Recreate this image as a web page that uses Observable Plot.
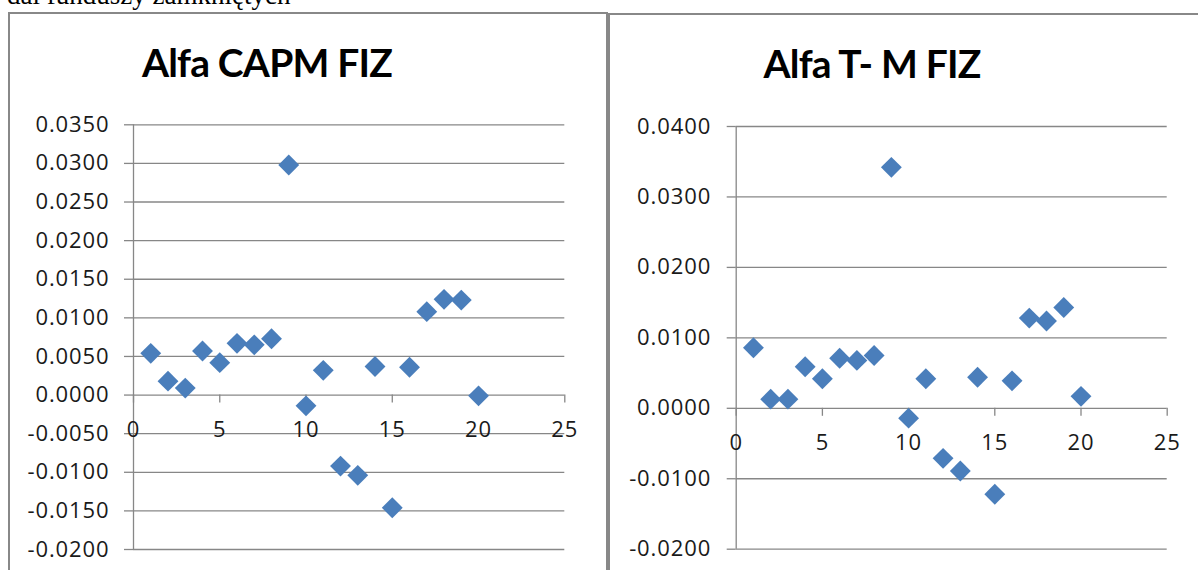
<!DOCTYPE html>
<html>
<head>
<meta charset="utf-8">
<script src="https://cdn.jsdelivr.net/npm/d3@7"></script>
<script src="https://cdn.jsdelivr.net/npm/@observablehq/plot@0.6"></script>
<style>
  html, body { margin: 0; padding: 0; background: #fff; width: 1198px; height: 570px; overflow: hidden; }
  #page { position: relative; width: 1198px; height: 570px; overflow: hidden; }
  .lead { position: absolute; left: 7px; top: -20px; font-family: "Liberation Serif", "DejaVu Serif", serif; font-size: 27px; color: #000; white-space: nowrap; }
  .panel { position: absolute; border: 2px solid #888; box-sizing: border-box; }
  .title { position: absolute; font-family: Lato, "Open Sans", sans-serif; font-weight: 700; font-size: 39px; color: #000; white-space: nowrap; transform: translateX(-50%); letter-spacing: -0.8px; line-height: 1; }
  .plotwrap { position: absolute; }
</style>
</head>
<body>
<div id="page">
  <div class="lead">dal funduszy zamkniętych</div>
  <div class="panel" id="p1" style="left:8px; top:12px; width:600px; height:600px;">
    <div class="title" style="left:257px; top:29px;">Alfa CAPM FIZ</div>
    <div class="plotwrap" id="c1" style="left:0; top:0;"></div>
  </div>
  <div class="panel" id="p2" style="left:608px; top:13px; width:600px; height:600px;">
    <div class="title" style="left:262px; top:29px;">Alfa T- M FIZ</div>
    <div class="plotwrap" id="c2" style="left:0; top:0;"></div>
  </div>
</div>
<script>
// ---- data ----
const fundNo = [1, 2, 3, 4, 5, 6, 7, 8, 9, 10, 11, 12, 13, 14, 15, 16, 17, 18, 19, 20];
const alfaCAPM = [0.0054, 0.0018, 0.0009, 0.0057, 0.0042, 0.0067, 0.0065, 0.0073, 0.0298, -0.0014,
                  0.0032, -0.0092, -0.0104, 0.0037, -0.0146, 0.0036, 0.0108, 0.0124, 0.0123, -0.0001];
const alfaTM   = [0.0086, 0.0013, 0.0013, 0.0059, 0.0042, 0.0071, 0.0068, 0.0075, 0.0342, -0.0014,
                  0.0042, -0.0071, -0.0089, 0.0044, -0.0122, 0.0039, 0.0128, 0.0124, 0.0143, 0.0017];
const xTicks = [0, 5, 10, 15, 20, 25];
const capmYTicks = [-0.02, -0.015, -0.01, -0.005, 0, 0.005, 0.01, 0.015, 0.02, 0.025, 0.03, 0.035];
const tmYTicks = [-0.02, -0.01, 0, 0.01, 0.02, 0.03, 0.04];

const markerColor = "#4a7ebb";
const gridColor = "#878787";
const textColor = "#1a1a1a";

function fmt(d) {
  const s = (+d).toFixed(4);
  return s === "-0.0000" ? "0.0000" : s;
}

function chart(el, {values, yTicks, width, height, marginTop, marginBottom, marginLeft, marginRight, padY}) {
  const data = fundNo.map((n, i) => ({n, v: values[i]}));
  const yDomain = [d3.min(yTicks), d3.max(yTicks)];
  const bottom = height - marginBottom;
  const ys = Plot.scale({y: {domain: yDomain, range: [bottom, marginTop]}});
  const zeroShift = ys.apply(0) - bottom;
  const svg = Plot.plot({
    width, height, marginTop, marginBottom, marginLeft, marginRight,
    x: {domain: [0, 25], axis: null},
    y: {domain: yDomain, axis: null},
    style: {fontFamily: "'Open Sans', sans-serif", fontSize: "22px", letterSpacing: "0.9px", color: textColor, background: "transparent", overflow: "visible"},
    marks: [
      Plot.gridY(yTicks, {stroke: gridColor, strokeOpacity: 1, strokeWidth: 1.3}),
      Plot.ruleX([0], {stroke: gridColor, strokeWidth: 1.3}),
      Plot.axisY(yTicks, {anchor: "left", tickSize: 9, tickPadding: padY, tickFormat: fmt, stroke: gridColor, strokeWidth: 1.3, fill: textColor, label: null}),
      Plot.axisX(xTicks, {anchor: "bottom", dy: zeroShift, tickSize: 8, tickPadding: 18, tickFormat: d => String(d), stroke: gridColor, strokeWidth: 1.3, fill: textColor, label: null}),
      Plot.dot(data, {x: "n", y: "v", symbol: "diamond2", r: 9.4, fill: markerColor, stroke: null})
    ]
  });
  document.getElementById(el).appendChild(svg);
}

chart("c1", {values: alfaCAPM, yTicks: capmYTicks, width: 596, height: 556,
  marginTop: 110.3, marginBottom: 21, marginLeft: 123, marginRight: 41.7, padY: 15});
chart("c2", {values: alfaTM, yTicks: tmYTicks, width: 588, height: 555,
  marginTop: 111, marginBottom: 21.3, marginLeft: 125.7, marginRight: 31.3, padY: 16});
</script>
</body>
</html>
